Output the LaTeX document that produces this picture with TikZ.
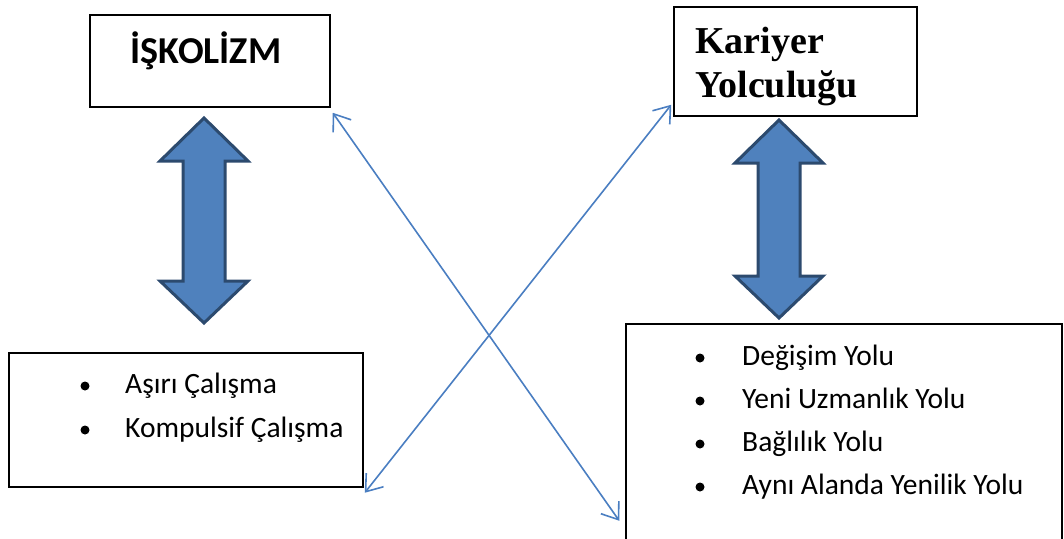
\documentclass[tikz,border=0pt]{standalone}
\usepackage{fontspec}
\setmainfont{Carlito}
\newfontfamily\serifbold{Liberation Serif}
\usetikzlibrary{arrows.meta,calc}
\definecolor{fatblue}{HTML}{4F81BD}
\definecolor{fatedge}{HTML}{2C4A6E}
\definecolor{linkblue}{HTML}{4A7EC1}
\tikzset{
  box/.style={draw,line width=1.5pt,inner sep=0pt},
  bigarrow/.style={fill=fatblue,draw=fatedge,line width=3pt,line join=miter},
  link/.style={linkblue,line width=1.6pt,{Straight Barb[length=15pt,width=22pt]}-{Straight Barb[length=15pt,width=22pt]}},
  entry/.style={anchor=base west,inner sep=0pt,font=\fontsize{29.5}{29.5}\selectfont}
}
\begin{document}
\begin{tikzpicture}[x=1pt,y=-1pt]
  \useasboundingbox (0,0) rectangle (1064,538);
  % boxes
  \node[box,minimum width=240pt,minimum height=92pt] (isk) at (210,61) {};
  \node[box,minimum width=243pt,minimum height=109pt] (kariyer) at (795.5,61.5) {};
  \node[box,minimum width=354pt,minimum height=134pt] (habits) at (186,420) {};
  \node[box,minimum width=436pt,minimum height=240pt] (paths) at (844,444) {};
  % titles
  \node[anchor=base,inner sep=0pt,font=\bfseries\fontsize{38}{38}\selectfont] (isktitle) at (206,63) {İŞKOLİZM};
  \node[anchor=north west,align=left,inner sep=0pt,font=\serifbold\bfseries\fontsize{38}{44}\selectfont] (kartitle) at (695,27) {Kariyer\\Yolculuğu};
  % lists
  \foreach \txt [count=\i] in {Aşırı Çalışma,Kompulsif Çalışma} {
    \fill (85,349+44*\i-7) circle [radius=4.5];
    \node[entry] (left\i) at (125,349+44*\i) {\txt};
  }
  \foreach \txt [count=\i] in {Değişim Yolu,Yeni Uzmanlık Yolu,Bağlılık Yolu,Aynı Alanda Yenilik Yolu} {
    \fill (700,322+43*\i-7) circle [radius=4.5];
    \node[entry] (right\i) at (742,322+43*\i) {\txt};
  }
  % fat arrows
  \foreach \cx/\top/\bot in {204/118/323,779/120/318}
    \draw[bigarrow] (\cx,\top) -- (\cx+44,\top+43) -- (\cx+21,\top+43) -- (\cx+21,\bot-42)
      -- (\cx+44,\bot-42) -- (\cx,\bot) -- (\cx-44,\bot-42) -- (\cx-21,\bot-42)
      -- (\cx-21,\top+43) -- (\cx-44,\top+43) -- cycle;
  % crossing links
  \coordinate (a1) at ($(isk.south east)+(2,5)$);
  \coordinate (a2) at ($(paths.south west)+(-6,-44)$);
  \coordinate (b1) at ($(habits.south east)+(1,5)$);
  \coordinate (b2) at ($(kariyer.south west)+(-2,-12)$);
  \draw[link] (a1) -- (a2);
  \draw[link] (b1) -- (b2);
\end{tikzpicture}
\end{document}
